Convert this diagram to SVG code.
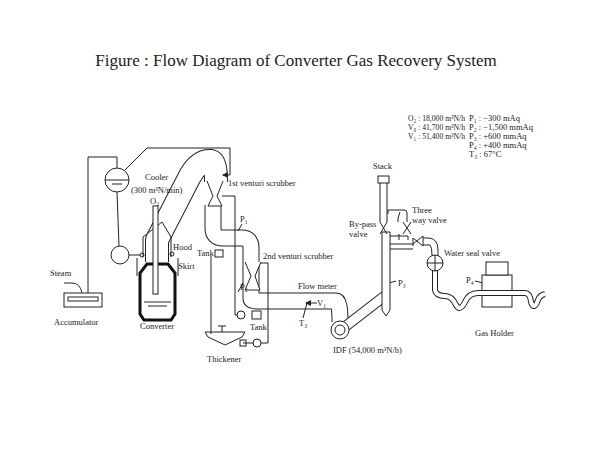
<svg xmlns="http://www.w3.org/2000/svg" width="600" height="450" viewBox="0 0 600 450">
<style>
text{font-family:"Liberation Serif",serif;font-size:8.5px;fill:#222}
.l{fill:none;stroke:#222;stroke-width:1}
.pb{fill:none;stroke:#222;stroke-linecap:butt;stroke-linejoin:round}
.pw{fill:none;stroke:#fff;stroke-linecap:butt;stroke-linejoin:round}
</style>
<defs><marker id="a" markerWidth="6" markerHeight="6" refX="5" refY="3" orient="auto"><path d="M0,0 L6,3 L0,6z" fill="#222"/></marker></defs>
<rect width="600" height="450" fill="#fff"/>
<text x="296" y="66" text-anchor="middle" style="font-size:17px">Figure  : Flow Diagram of Converter Gas Recovery System</text>
<g id="legend">
<text x="408" y="121" textLength="57" lengthAdjust="spacingAndGlyphs">O₂ : 18,000 m³N/h</text><text x="408" y="130" textLength="57" lengthAdjust="spacingAndGlyphs">V₀ : 41,700 m³N/h</text><text x="408" y="139" textLength="57" lengthAdjust="spacingAndGlyphs">V₁ : 51,400 m³N/h</text>
<text x="469" y="121">P₁ : −300 mAq</text><text x="469" y="130">P₂ : −1,500 mmAq</text><text x="469" y="139">P₃ : +600 mmAq</text><text x="469" y="148">P₄ : +400 mmAq</text><text x="469" y="157">T₃ : 67°C</text>
</g>
<g id="connectors">
<path class="pb" stroke-width="24" d="M157,262 L157,240 L190,176 Q199,160 211,161 Q216,162 216,182"/>
<path class="pw" stroke-width="22" d="M157,262 L157,240 L190,176 Q199,160 211,161 Q216,162 216,182"/>
<path class="pb" stroke-width="17" d="M213,205 L213,228 Q213,238 223,238 L242,238 Q251,238 251,248 L251,298 Q251,301 258,301 L336,301 Q340,301 340,322"/>
<path class="pw" stroke-width="15" d="M213,205 L213,228 Q213,238 223,238 L242,238 Q251,238 251,248 L251,298 Q251,301 258,301 L336,301 Q340,301 340,322"/>
<path class="pb" stroke-width="11" d="M342,329 L386,295"/><path class="pw" stroke-width="9" d="M342,329 L386,295"/>
<path class="pb" stroke-width="6" d="M435,268 L435,290 Q436,296 445,296 Q452,296 456,305 Q460,312 465,302 Q469,293 478,293 L525,293 Q530,293 531,302 Q534,311 538,300 Q540,295 545,294"/>
<path class="pw" stroke-width="4" d="M435,268 L435,290 Q436,296 445,296 Q452,296 456,305 Q460,312 465,302 Q469,293 478,293 L525,293 Q530,293 531,302 Q534,311 538,300 Q540,295 545,294"/>
<path class="l" d="M88,293 L88,157 L117,157 L117,168"/>
<path class="l" d="M117,192 L119,246"/>
<path class="l" d="M125,170 L147,148 L230,148 L230,175 L223,175" marker-end="url(#a)"/>
<path class="l" d="M129,255 L140,255"/>
<path class="l" d="M64,283 L72,283 Q80,283 82,293"/>
<path class="l" d="M211,256 L211,334"/>
<path class="l" d="M222,196 L235,196 L235,315 L245,315"/>
<path class="l" d="M260,263 L268,263 L268,343 L261,343"/>
<path class="l" d="M253,343 L243,343"/>
<path class="l" d="M307,303 L303,318"/>
<path class="l" d="M317,303 L306,303" marker-end="url(#a)"/>
<path class="l" d="M389,283 L396,281"/>
<path class="l" d="M475,281 L487,284" marker-end="url(#a)"/>
<path class="l" d="M238,292 L243,283"/>
<path class="l" d="M238,231 L242,224"/>
</g>
<g id="accumulator"><rect x="64" y="293" width="38" height="14" class="l"/><rect x="68" y="297" width="30" height="4" class="l"/><text x="50" y="276">Steam</text><text x="54" y="325">Accumulator</text></g>
<g id="drum"><circle cx="117" cy="180" r="12" class="l"/><path class="l" d="M105,180 L129,180 M112,184 L122,184"/><circle cx="120" cy="255" r="9" class="l"/></g>
<g id="converter">
<path d="M147,264 L168,264 L175,273 L175,314 L171,320 L144,320 L140,314 L140,273Z" fill="none" stroke="#111" stroke-width="3"/>
<path class="l" d="M144,302 L171,302 M148,306 L167,306 M137,258 L137,276 M178,258 L178,276 M143,257 L143,237 L162,222 L171,237 L171,257"/>
<rect x="153" y="206" width="5" height="88" fill="#fff" stroke="#222"/>
<circle cx="142" cy="255" r="2" class="l"/><circle cx="172" cy="254" r="2" class="l"/>
<text x="145" y="180">Cooler</text><text x="131" y="193">(300 m³N/min)</text><text x="150" y="204">O₂</text>
<text x="173" y="250">Hood</text><text x="178" y="269">Skirt</text><text x="140" y="329">Converter</text>
</g>
<g id="venturi1"><path d="M207,181 L213,196 L208,206 L222,206 L217,196 L223,181" fill="#fff" stroke="#222"/><text x="228" y="186">1st venturi scrubber</text><text x="240" y="222">P₁</text></g>
<g id="venturi2"><path d="M245,262 L251,276 L245,290 L260,290 L255,276 L261,262" fill="#fff" stroke="#222"/><text x="263" y="259">2nd venturi scrubber</text><text x="240" y="290">P₂</text></g>
<g id="tanks">
<rect x="215" y="250" width="8" height="7" class="l"/><text x="197" y="256">Tank</text>
<circle cx="241" cy="315" r="4" fill="#fff" stroke="#222"/><rect x="252" y="311" width="9" height="8" class="l"/><text x="250" y="330">Tank</text>
<path class="l" d="M205,332 L245,332 L242,337 L225,345 L208,337Z M222,332 L222,326 M218,326 L226,326"/>
<circle cx="257" cy="343" r="4" class="l"/><rect x="240" y="340" width="6" height="6" class="l"/><text x="207" y="362">Thickener</text>
</g>
<g id="flowmeter"><text x="298" y="289">Flow meter</text><text x="317" y="306">V₁</text><text x="299" y="326">T₃</text></g>
<g id="idf"><circle cx="340" cy="330" r="9" fill="#fff" stroke="#222"/><circle cx="340" cy="330" r="5" class="l"/><text x="333" y="353">IDF (54,000 m³N/h)</text></g>
<g id="stack">
<path d="M382,232 L382,310 L386,316 L390,310 L390,232Z" fill="#fff" stroke="#222"/>
<rect x="378" y="176" width="11" height="7" class="l"/><path class="l" d="M380,183 L380,222 M387,183 L387,222 M380,222 L387,234 M387,222 L380,234"/>
<path class="l" d="M390,236 L408,236 L408,240 M399,234 L399,240 M388,214 L388,210 L404,210 Q407,210 407,213 L407,222 M398,222 L398,218 L400,212 M403,222 L411,234 M411,222 L403,234 M390,244 L413,244 L423,236 L423,246 L413,238 L413,246 M390,249 L413,249 M423,238 L428,238 Q438,238 438,250 L438,256 M423,245 L430,245 Q432,247 432,255"/>
<text x="373" y="169">Stack</text><text x="412" y="213">Three</text><text x="412" y="223">way valve</text>
<text x="349" y="227">By-pass</text><text x="349" y="237">valve</text><text x="398" y="286">P₃</text>
</g>
<g id="watersealvalve"><circle cx="435" cy="263" r="8" fill="#fff" stroke="#222"/><path class="l" d="M427,263 L443,263 M435,255 L435,271"/><text x="444" y="256">Water seal valve</text></g>
<g id="gasholder"><rect x="482" y="275" width="30" height="32" fill="#fff" stroke="#222"/><rect x="486" y="262" width="22" height="13" fill="#fff" stroke="#222"/><path class="pb" stroke-width="6" d="M478,293 L525,293"/><path class="pw" stroke-width="4" d="M478,293 L525,293"/><text x="466" y="283">P₄</text><text x="475" y="336">Gas Holder</text></g>
</svg>
